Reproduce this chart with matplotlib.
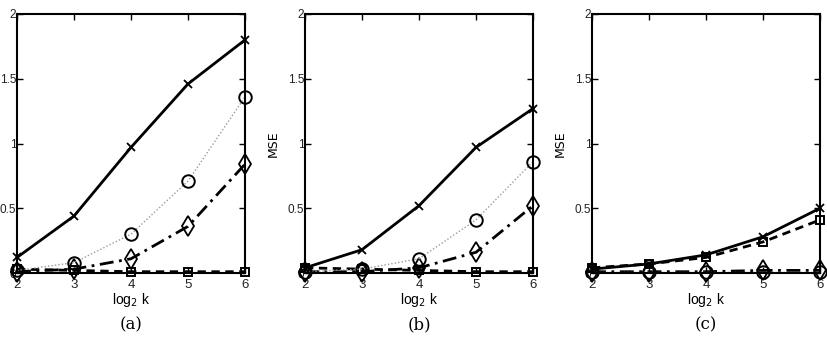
import matplotlib
matplotlib.use("Agg")
import matplotlib.pyplot as plt

# x axis: log2 k
log2k = [2, 3, 4, 5, 6]

# panel (a)
a_cross = [0.12, 0.44, 0.97, 1.46, 1.80]
a_circle = [0.02, 0.08, 0.30, 0.71, 1.36]
a_diamond = [0.01, 0.03, 0.11, 0.36, 0.84]
a_square = [0.03, 0.02, 0.01, 0.01, 0.01]

# panel (b)
b_cross = [0.04, 0.18, 0.52, 0.97, 1.27]
b_circle = [0.01, 0.03, 0.11, 0.41, 0.86]
b_diamond = [0.01, 0.01, 0.04, 0.16, 0.52]
b_square = [0.04, 0.03, 0.02, 0.01, 0.01]

# panel (c)
c_cross = [0.03, 0.07, 0.14, 0.28, 0.50]
c_circle = [0.005, 0.005, 0.005, 0.005, 0.005]
c_diamond = [0.01, 0.01, 0.01, 0.02, 0.02]
c_square = [0.04, 0.07, 0.12, 0.24, 0.41]

yticks = [0, 0.5, 1, 1.5, 2]
ytick_labels = ["0", "0.5", "1", "1.5", "2"]
captions = ["(a)", "(b)", "(c)"]

tick_font = ["Liberation Sans Narrow", "Liberation Sans", "DejaVu Sans"]

fig = plt.figure(figsize=(8.28, 3.6), dpi=100)

panels = [
    (a_cross, a_circle, a_diamond, a_square),
    (b_cross, b_circle, b_diamond, b_square),
    (c_cross, c_circle, c_diamond, c_square),
]
lefts = [17, 305, 592]

for i, (cross, circle, diamond, square) in enumerate(panels):
    ax = fig.add_axes([lefts[i] / 828, 87 / 360, 228 / 828, 259 / 360])

    # square, dashed
    ax.plot(log2k, square, color="black", linestyle=(0, (3, 2)), linewidth=2,
            marker="s", markersize=6, markerfacecolor="none", markeredgewidth=1.4,
            clip_on=False)
    # diamond, dash-dot
    ax.plot(log2k, diamond, color="black", linestyle=(0, (5, 2, 1, 2)), linewidth=2,
            marker="d", markersize=10, markerfacecolor="none", markeredgewidth=1.3,
            clip_on=False)
    # circle, grey dotted
    ax.plot(log2k, circle, color="#9a9a9a", linestyle=(0, (1, 1.5)), linewidth=1,
            marker="o", markersize=9, markerfacecolor="none", markeredgecolor="black",
            markeredgewidth=1.4, clip_on=False)
    # cross, solid
    ax.plot(log2k, cross, color="black", linestyle="-", linewidth=2,
            marker="x", markersize=6, markeredgewidth=1.3, clip_on=False)

    ax.set_xlim(2, 6)
    ax.set_ylim(0, 2)
    ax.set_xticks(log2k)
    ax.set_yticks(yticks)
    ax.set_yticklabels(ytick_labels)
    ax.tick_params(direction="in", top=True, right=True, length=4, width=1)
    ax.tick_params(axis="x", labelsize=9.5, pad=4)
    ax.tick_params(axis="y", labelsize=8.5, pad=0.5)
    for lab in ax.get_xticklabels() + ax.get_yticklabels():
        lab.set_family(tick_font)
        lab.set_color("#222222")
    for sp in ax.spines.values():
        sp.set_linewidth(1.5)

    ax.set_xlabel("log$_2$ k", fontsize=10, labelpad=0, family=tick_font)
    if i > 0:
        ax.set_ylabel("MSE", fontsize=9, labelpad=6, family="DejaVu Sans")

    ax.text(0.5, -0.2, captions[i], transform=ax.transAxes, ha="center", va="center",
            fontsize=12, family="DejaVu Serif")

fig.savefig("out.png", dpi=100)
